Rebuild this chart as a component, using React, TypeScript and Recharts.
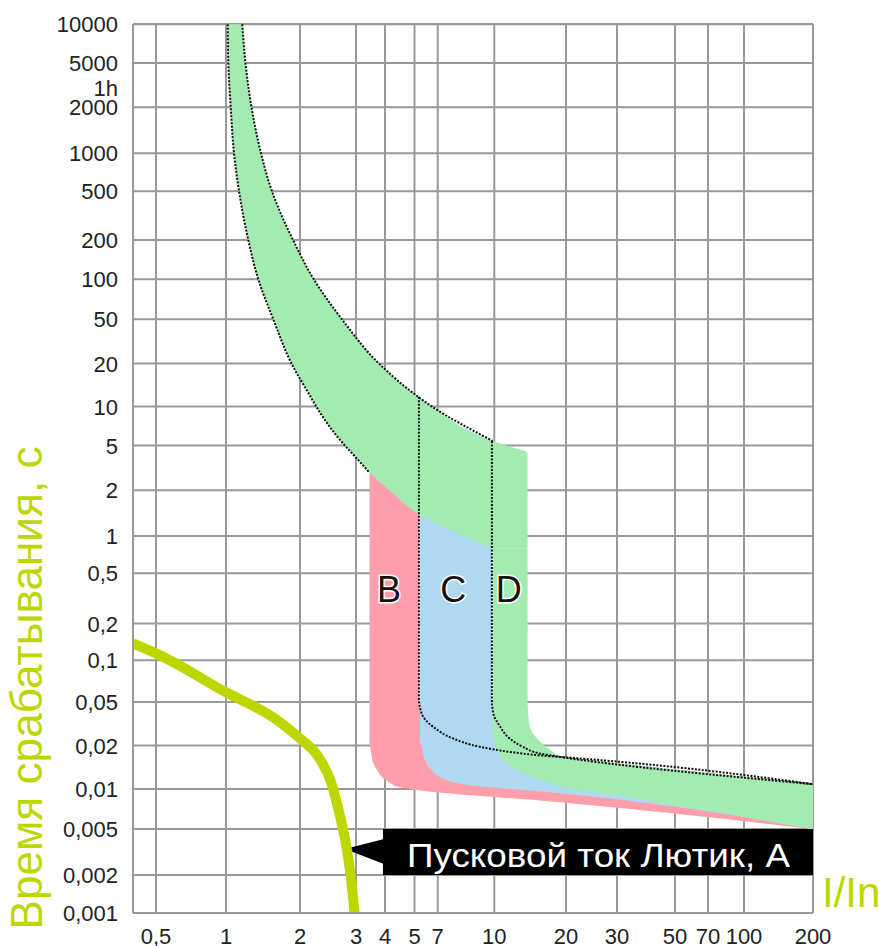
import React from "react";
import {
  ComposedChart,
  Area,
  Line,
  Scatter,
  XAxis,
  YAxis,
  CartesianGrid,
  ReferenceArea,
} from "recharts";

// axis ticks (I/In and seconds) and their labels
const X_TICKS = [0.5, 1, 2, 3, 4, 5, 7, 10, 20, 30, 50, 70, 100, 200];
const X_LABELS = ["0,5", "1", "2", "3", "4", "5", "7", "10", "20", "30", "50", "70", "100", "200"];
const Y_TICKS = [0.001, 0.002, 0.005, 0.01, 0.02, 0.05, 0.1, 0.2, 0.5, 1, 2, 5, 10, 20, 50, 100, 200, 500, 1000, 2000, 5000, 10000];
const Y_LABELS = ["0,001", "0,002", "0,005", "0,01", "0,02", "0,05", "0,1", "0,2", "0,5", "1", "2", "5", "10", "20", "50", "100", "200", "500", "1000", "2000", "5000", "10000"];

// the paper's grid is not a true log scale: spacing of each grid line along the plot
const X_GRID_VAL = [0.4, ...X_TICKS];
const X_GRID_POS = [0, 23, 93, 167, 223, 252, 281.5, 304.7, 361.3, 433, 484, 542, 575, 611, 680];
const Y_GRID_POS = [0, 38, 84, 124, 167.4, 211, 252.7, 289.4, 339.7, 377, 422.7, 467.4, 506.4, 549.4, 593.7, 633.7, 673, 721.7, 759.7, 805.7, 850, 888.7];

// thermal band shared by B, C, D (time -> left / right current)
const THERMAL_T = [10000, 5000, 2000, 1000, 500, 200, 100, 50, 20, 11.7, 10, 5.43, 5, 4.3, 2.91, 1.9, 1.4, 1.1, 0.796];
const THERMAL_LO = [1.016, 1.022, 1.045, 1.078, 1.13, 1.232, 1.353, 1.557, 1.848, 2.16, 2.25, 2.69, 2.77, 2.91, 3.41, 4.26, 5.28, 7.56, 9.9];
const THERMAL_HI = [1.165, 1.2, 1.27, 1.388, 1.538, 1.874, 2.21, 2.71, 3.77, 5.28, 6.45, 9.9, 11.2, 13.8, 13.8, 13.8, 13.8, 13.8, 13.8];

// zone B (pink)
const B_T = [3.0, 0.0541, 0.0392, 0.0296, 0.0232, 0.021, 0.0196, 0.0181, 0.0171, 0.0167, 0.0151, 0.0135, 0.0119, 0.0108, 0.0104, 0.0099, 0.00794, 0.005];
const B_LO = [3.43, 3.43, 3.43, 3.43, 3.43, 3.43, 3.45, 3.48, 3.5, 3.51, 3.56, 3.7, 3.93, 4.22, 4.37, 4.94, 18.9, 200];
const B_HI = [5.33, 5.33, 5.55, 6.57, 7.72, 8.5, 9.14, 11.6, 15.6, 18.9, 30.3, 54.3, 115, 200, 200, 200, 200, 200];

// zone C (blue)
const C_T = [2, 0.0514, 0.0392, 0.0296, 0.0232, 0.0224, 0.0196, 0.0176, 0.0167, 0.0158, 0.0135, 0.0118, 0.0108, 0.00928, 0.005];
const C_LO = [5.41, 5.41, 5.41, 5.41, 5.41, 5.41, 5.54, 5.66, 5.73, 5.82, 6.42, 7.25, 8.2, 18.9, 200];
const C_HI = [9.85, 9.85, 9.94, 10.6, 11.6, 11.9, 13.2, 15.6, 18.9, 24.3, 54.3, 118, 200, 200, 200];

// zone D (green)
const D_T = [0.796, 0.0486, 0.0378, 0.0294, 0.0233, 0.0195, 0.0183, 0.0167, 0.0158, 0.0141, 0.0126, 0.0113, 0.0108, 0.0104, 0.009, 0.00754, 0.00634, 0.005];
const D_LO = [9.9, 9.9, 9.9, 9.9, 10.0, 10.1, 10.3, 10.7, 10.9, 11.9, 13.7, 16.3, 17.6, 18.9, 29.3, 49.5, 91.5, 200];
const D_HI = [13.8, 13.8, 13.9, 14.1, 15.1, 16.6, 17.5, 18.9, 24.3, 42.1, 79.2, 152, 200, 200, 200, 200, 200, 200];

// dotted characteristic lines of C and D
const C_CURVE_T = [11.7, 0.0541, 0.0392, 0.0296, 0.0232, 0.0196, 0.0181, 0.0171, 0.0167, 0.0108];
const C_CURVE_I = [5.33, 5.33, 5.55, 6.57, 7.72, 9.14, 11.6, 15.6, 18.9, 200];
const D_CURVE_T = [5.43, 0.0514, 0.0392, 0.0296, 0.0232, 0.0196, 0.0176, 0.0167, 0.0108];
const D_CURVE_I = [9.85, 9.85, 9.94, 10.6, 11.6, 13.2, 15.6, 18.9, 200];

// starting current of "Лютик"
const LUTIK_T = [0.138, 0.114, 0.0588, 0.0394, 0.0233, 0.0186, 0.0131, 0.0073, 0.00347, 0.001];
const LUTIK_I = [0.4, 0.5, 1, 1.464, 2, 2.2, 2.43, 2.63, 2.8, 2.97];

const ZONE_NAMES = ["B", "C", "D"];
const ZONE_I = [4.12, 7.72, 11.5];
const ZONE_T = [0.377, 0.377, 0.377];

const NOTE_TEXT = "Пусковой ток Лютик, А";
const NOTE_I = [3.92, 200];
const NOTE_T = [0.002, 0.005];

const GREEN = "#a4ebb2";
const BLUE = "#aed9f0";
const PINK = "#ff9eab";
const LIME = "#bed600";
const GRID = "#999999";
const FONT = "'Liberation Sans', Arial, sans-serif";

// piecewise log mapping between grid lines
const makeScale = (vals: number[], pos: number[]) => (v: number) => {
  let i = 0;
  while (i < vals.length - 2 && v > vals[i + 1]) i++;
  const f = (Math.log(v) - Math.log(vals[i])) / (Math.log(vals[i + 1]) - Math.log(vals[i]));
  return pos[i] + f * (pos[i + 1] - pos[i]);
};
const xU = makeScale(X_GRID_VAL, X_GRID_POS);
const yU = makeScale(Y_TICKS, Y_GRID_POS);

const bandRows = (ts: number[], lo: number[], hi: number[]) =>
  ts.map((t, i) => ({ y: yU(t), r: [xU(lo[i]), xU(hi[i])] }));
const lineRows = (ts: number[], is: number[]) => ts.map((t, i) => ({ y: yU(t), x: xU(is[i]) }));

const thermalBand = bandRows(THERMAL_T, THERMAL_LO, THERMAL_HI);
const bBand = bandRows(B_T, B_LO, B_HI);
const cBand = bandRows(C_T, C_LO, C_HI);
const dBand = bandRows(D_T, D_LO, D_HI);
const thermalLow = lineRows(THERMAL_T.slice(0, 15), THERMAL_LO.slice(0, 15));
const thermalHigh = lineRows(THERMAL_T.slice(0, 12), THERMAL_HI.slice(0, 12));
const cCurve = lineRows(C_CURVE_T, C_CURVE_I);
const dCurve = lineRows(D_CURVE_T, D_CURVE_I);
const lutik = lineRows(LUTIK_T, LUTIK_I);
const zoneRows = ZONE_NAMES.map((n, i) => ({ label: n, x: xU(ZONE_I[i]), y: yU(ZONE_T[i]) }));

const nearest = (ticks: number[], u: number, scale: (v: number) => number) => {
  let best = 0;
  ticks.forEach((t, i) => {
    if (Math.abs(scale(t) - u) < Math.abs(scale(ticks[best]) - u)) best = i;
  });
  return best;
};

const XTick = (props: any) => {
  const { x, y, payload } = props;
  const i = nearest(X_TICKS, payload.value, xU);
  return (
    <text x={x} y={y + 23} textAnchor="middle" fontSize={22} fill="#222" fontFamily={FONT}>
      {X_LABELS[i]}
    </text>
  );
};

const YTick = (props: any) => {
  const { x, y, payload } = props;
  const i = nearest(Y_TICKS, payload.value, yU);
  return (
    <g>
      {Y_TICKS[i] === 2000 && (
        <text x={x - 7} y={y - 11} textAnchor="end" fontSize={22} fill="#222" fontFamily={FONT}>
          1h
        </text>
      )}
      <text x={x - 7} y={y + 8} textAnchor="end" fontSize={22} fill="#222" fontFamily={FONT}>
        {Y_LABELS[i]}
      </text>
    </g>
  );
};

const YTitle = (props: any) => {
  const vb = props.viewBox || { x: 0, y: 24, width: 133, height: 889 };
  const cx = vb.x + 42;
  const cy = vb.y + 664;
  return (
    <text
      x={cx}
      y={cy}
      transform={`rotate(-90 ${cx} ${cy})`}
      textAnchor="middle"
      fontSize={44}
      fill={LIME}
      fontFamily={FONT}
      textLength={483}
      lengthAdjust="spacingAndGlyphs"
    >
      Время срабатывания, с
    </text>
  );
};

const XTitle = (props: any) => {
  const vb = props.viewBox || { x: 133, y: 913, width: 680, height: 33 };
  return (
    <text x={vb.x + vb.width + 9} y={vb.y - 6} fontSize={42} fill={LIME} fontFamily={FONT}>
      I/In
    </text>
  );
};

const ZoneLetter = (props: any) => (
  <text
    x={props.cx}
    y={props.cy}
    dy="0.36em"
    textAnchor="middle"
    fontSize={36}
    fill="#111"
    stroke="#fff"
    strokeWidth={3}
    paintOrder="stroke"
    fontFamily={FONT}
  >
    {props.payload.label}
  </text>
);

const NoteBox = (props: any) => {
  const { x, y, width, height } = props;
  return (
    <g>
      <polygon points={`${x - 38},${y + 20} ${x + 1},${y + 10} ${x + 1},${y + 35}`} fill="#000" />
      <rect x={x} y={y} width={width} height={height} fill="#000" />
      <text
        x={x + 24}
        y={y + 38}
        fontSize={34}
        fill="#fff"
        fontFamily={FONT}
        textLength={383}
        lengthAdjust="spacingAndGlyphs"
      >
        {NOTE_TEXT}
      </text>
    </g>
  );
};

const dotted = { stroke: "#111", strokeWidth: 2, strokeDasharray: "2 1.5", dot: false, activeDot: false };

export default function App() {
  return (
    <div style={{ position: "absolute", left: 0, top: 0, background: "#fff" }}>
      <ComposedChart
        width={879}
        height={946}
        layout="vertical"
        margin={{ top: 24, right: 66, bottom: 0, left: 0 }}
      >
        <CartesianGrid stroke={GRID} strokeWidth={2} />
        <XAxis
          type="number"
          domain={[0, 680]}
          allowDataOverflow
          ticks={X_TICKS.map(xU)}
          interval={0}
          height={33}
          tick={<XTick />}
          tickLine={false}
          axisLine={{ stroke: GRID, strokeWidth: 2 }}
          label={<XTitle />}
        />
        <YAxis
          type="number"
          dataKey="y"
          domain={[0, 889]}
          reversed
          allowDataOverflow
          ticks={Y_TICKS.map(yU)}
          interval={0}
          width={133}
          tick={<YTick />}
          tickLine={false}
          axisLine={{ stroke: GRID, strokeWidth: 2 }}
          label={<YTitle />}
        />
        <Area data={bBand} dataKey="r" type="monotone" stroke="none" fill={PINK} fillOpacity={1} isAnimationActive={false} />
        <Area data={cBand} dataKey="r" type="monotone" stroke="none" fill={BLUE} fillOpacity={1} isAnimationActive={false} />
        <Area data={thermalBand} dataKey="r" type="monotone" stroke="none" fill={GREEN} fillOpacity={1} isAnimationActive={false} />
        <Area data={dBand} dataKey="r" type="monotone" stroke="none" fill={GREEN} fillOpacity={1} isAnimationActive={false} />
        <Line data={thermalLow} dataKey="x" type="monotone" {...dotted} isAnimationActive={false} />
        <Line data={thermalHigh} dataKey="x" type="monotone" {...dotted} isAnimationActive={false} />
        <Line data={cCurve} dataKey="x" type="monotone" {...dotted} isAnimationActive={false} />
        <Line data={dCurve} dataKey="x" type="monotone" {...dotted} isAnimationActive={false} />
        <Line
          data={lutik}
          dataKey="x"
          type="monotone"
          stroke={LIME}
          strokeWidth={10}
          dot={false}
          activeDot={false}
          isAnimationActive={false}
        />
        <Scatter data={zoneRows} dataKey="x" shape={ZoneLetter} isAnimationActive={false} />
        <ReferenceArea
          x1={xU(NOTE_I[0])}
          x2={xU(NOTE_I[1])}
          y1={yU(NOTE_T[0])}
          y2={yU(NOTE_T[1])}
          ifOverflow="visible"
          shape={NoteBox}
        />
      </ComposedChart>
    </div>
  );
}
